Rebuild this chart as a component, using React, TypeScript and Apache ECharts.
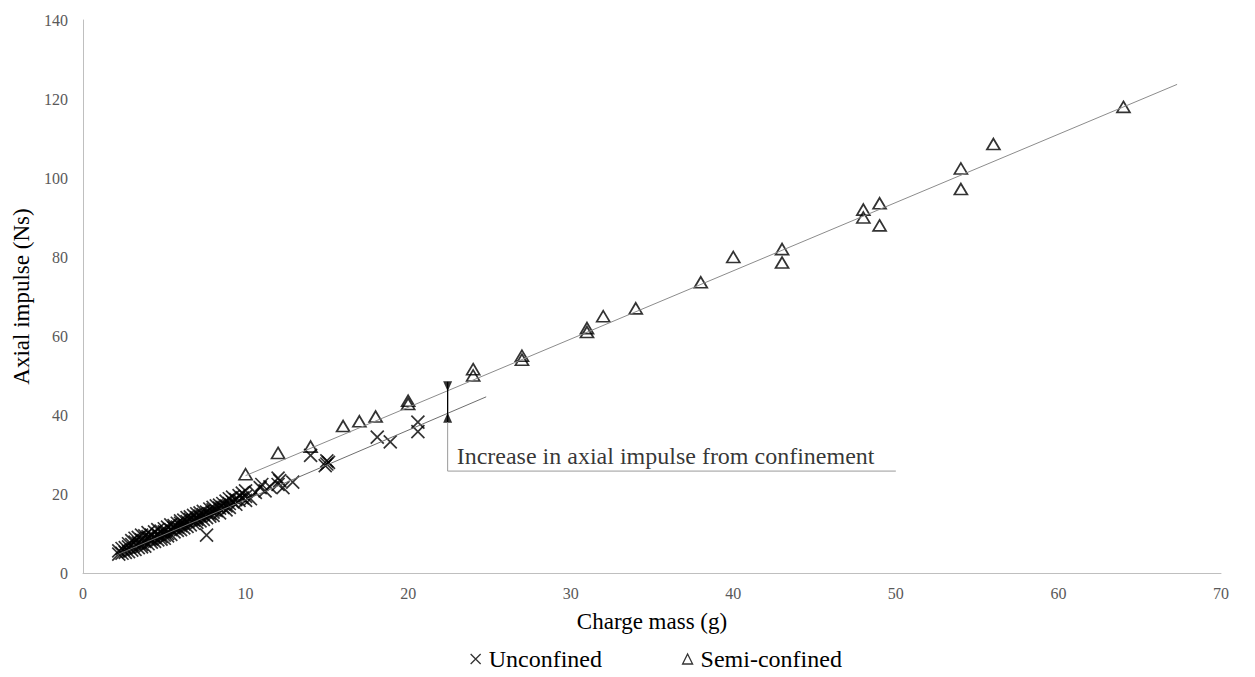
import React, { useEffect, useRef } from "react";
import * as echarts from "echarts";

// Charge mass (g) and axial impulse (Ns) for unconfined charges
const unconfinedMass = [
  2.2, 2.2, 2.4, 2.4, 2.6, 2.6, 2.8, 2.8, 2.8,
  3.0, 3.0, 3.0, 3.2, 3.2, 3.2, 3.4, 3.4, 3.4,
  3.6, 3.6, 3.6, 3.6, 3.8, 3.8, 3.8, 4.0, 4.0, 4.0, 4.0,
  4.2, 4.2, 4.2, 4.4, 4.4, 4.4, 4.6, 4.6, 4.6, 4.8, 4.8, 4.8,
  5.0, 5.0, 5.0, 5.0, 5.2, 5.2, 5.2, 5.4, 5.4, 5.4, 5.6, 5.6, 5.6,
  5.8, 5.8, 5.8, 6.0, 6.0, 6.0, 6.0, 6.2, 6.2, 6.2, 6.4, 6.4, 6.4,
  6.6, 6.6, 6.6, 6.8, 6.8, 6.8, 7.0, 7.0, 7.0, 7.0, 7.2, 7.2, 7.2,
  7.4, 7.4, 7.4, 7.6, 7.6, 7.6, 7.8, 7.8, 7.8, 8.0, 8.0, 8.0, 8.0,
  8.2, 8.2, 8.4, 8.4, 8.4, 8.6, 8.6, 8.8, 8.8, 8.8, 9.0, 9.0, 9.0,
  9.2, 9.2, 9.4, 9.4, 9.6, 9.6, 9.8, 9.8, 10.0, 10.0, 10.0,
  10.3, 10.6, 10.9, 11.0, 11.2, 11.5, 12.0, 12.0, 12.1, 12.3, 12.9,
  14.0, 14.9, 15.0, 15.0, 15.1, 18.1, 18.9, 20.6, 20.6,
];
const unconfinedImpulse = [
  4.8, 5.6, 5.0, 6.2, 6.4, 5.2, 6.6, 5.4, 7.4,
  7.2, 5.8, 8.2, 6.0, 7.8, 8.8, 7.6, 6.4, 9.0,
  8.4, 6.6, 9.6, 7.2, 8.0, 9.4, 6.8, 8.8, 7.4, 10.2, 9.2,
  9.6, 7.8, 8.6, 10.4, 9.0, 8.0, 9.8, 8.4, 11.0, 10.6, 9.2, 8.6,
  11.2, 9.6, 10.4, 8.8, 11.6, 10.0, 9.4, 11.0, 12.2, 9.8, 10.4, 12.0, 11.4,
  12.6, 10.8, 11.6, 13.2, 12.0, 11.0, 12.6, 12.4, 13.4, 11.4, 13.0, 11.8, 14.0,
  12.2, 13.6, 14.2, 14.6, 12.6, 13.4, 14.0, 15.0, 12.8, 13.6, 15.2, 13.2, 14.4,
  14.8, 13.6, 15.6, 9.6, 15.4, 14.0, 16.2, 15.0, 14.4, 16.6, 15.4, 14.6, 16.0,
  17.0, 15.8, 16.4, 17.2, 15.2, 17.6, 16.6, 17.0, 18.2, 16.0, 17.6, 18.8, 16.6,
  18.0, 19.2, 18.6, 17.4, 19.6, 18.4, 19.0, 20.2, 19.4, 20.8, 18.4,
  18.8, 20.4, 21.6, 22.4, 20.8, 21.8, 24.0, 22.4, 23.4, 21.6, 23.0,
  29.8, 27.2, 28.4, 27.6, 28.0, 34.4, 33.2, 38.2, 35.8,
];

// Charge mass (g) and axial impulse (Ns) for semi-confined charges
const semiMass = [
  10, 12, 14, 16, 17, 18, 20, 20, 24, 24, 27, 27, 31, 31, 32, 34, 38, 40,
  43, 43, 48, 48, 49, 49, 54, 54, 56, 64,
];
const semiImpulse = [
  25, 30.4, 32, 37.2, 38.4, 39.6, 43.6, 42.8, 51.6, 50, 55, 54, 62, 61, 65, 67,
  73.6, 80, 82, 78.6, 92, 90, 93.6, 88, 102.4, 97.2, 108.6, 118,
];

// Linear trend lines (end points)
const unconfinedTrendMass = [2.2, 24.8];
const unconfinedTrendImpulse = [4.8, 44.6];
const semiTrendMass = [10, 67.3];
const semiTrendImpulse = [24.65, 123.7];

// Annotation: gap between the two trend lines at 22.4 g
const gapMass = 22.43;
const gapTopImpulse = 48.4;
const gapBottomImpulse = 38.2;
const gapTopArrow = 47.3;
const gapBottomArrow = 39.3;
const calloutImpulse = 25.8;
const calloutEndMass = 50;
const calloutText = "Increase in axial impulse from confinement";

const xTicks = { min: 0, max: 70, interval: 10 };
const yTicks = { min: 0, max: 140, interval: 20 };

const FONT = "'Liberation Serif', 'Times New Roman', serif";
const CROSS = "path://M0,0L10,10M10,0L0,10";

const zip = (a: number[], b: number[]) => a.map((v, i) => [v, b[i]]);

export default function App() {
  const ref = useRef<HTMLDivElement>(null);

  useEffect(() => {
    if (!ref.current) return;
    const chart = echarts.init(ref.current, null, { renderer: "svg" });
    chart.setOption({
      animation: false,
      backgroundColor: "#ffffff",
      grid: { left: 83, right: 34, top: 20, bottom: 104 },
      xAxis: {
        type: "value",
        ...xTicks,
        name: "Charge mass (g)",
        nameLocation: "middle",
        nameGap: 37,
        nameTextStyle: { fontFamily: FONT, fontSize: 23, color: "#000" },
        axisLine: { show: true, lineStyle: { color: "#bfbfbf", width: 1 } },
        axisTick: { show: false },
        splitLine: { show: false },
        axisLabel: { fontFamily: FONT, fontSize: 16, color: "#595959", margin: 12 },
      },
      yAxis: {
        type: "value",
        ...yTicks,
        name: "Axial impulse (Ns)",
        nameLocation: "middle",
        nameGap: 38,
        nameRotate: 90,
        nameTextStyle: { fontFamily: FONT, fontSize: 23, color: "#000" },
        axisLine: { show: true, lineStyle: { color: "#bfbfbf", width: 1 } },
        axisTick: { show: false },
        splitLine: { show: false },
        axisLabel: { fontFamily: FONT, fontSize: 16, color: "#595959", margin: 15 },
      },
      legend: {
        bottom: 1,
        left: 465,
        itemGap: 80,
        itemWidth: 10,
        itemHeight: 10,
        textStyle: { fontFamily: FONT, fontSize: 24, color: "#000", padding: [0, 0, 0, 3] },
        data: [
          {
            name: "Unconfined",
            icon: CROSS,
            itemStyle: { color: "rgba(0,0,0,0)", borderColor: "#000", borderWidth: 1.3 },
          },
          {
            name: "Semi-confined",
            icon: "triangle",
            itemStyle: { color: "rgba(0,0,0,0)", borderColor: "#000", borderWidth: 1.3 },
          },
        ],
      },
      series: [
        {
          name: "Semi-confined trend",
          type: "line",
          data: zip(semiTrendMass, semiTrendImpulse),
          symbol: "none",
          lineStyle: { color: "#8c8c8c", width: 1 },
          silent: true,
        },
        {
          name: "Unconfined trend",
          type: "line",
          data: zip(unconfinedTrendMass, unconfinedTrendImpulse),
          symbol: "none",
          lineStyle: { color: "#6e6e6e", width: 1 },
          silent: true,
        },
        {
          name: "Unconfined",
          type: "scatter",
          data: zip(unconfinedMass, unconfinedImpulse),
          symbol: CROSS,
          symbolSize: 13,
          itemStyle: { color: "rgba(0,0,0,0)", borderColor: "#000", borderWidth: 1.7 },
        },
        {
          name: "Semi-confined",
          type: "scatter",
          data: zip(semiMass, semiImpulse),
          symbol: "triangle",
          symbolSize: [13, 11],
          itemStyle: { color: "rgba(0,0,0,0)", borderColor: "#000", borderWidth: 1.7 },
        },
        {
          name: "gap",
          type: "line",
          data: [
            [gapMass, gapTopImpulse],
            [gapMass, gapBottomImpulse],
          ],
          symbol: "none",
          lineStyle: { color: "#000", width: 1.3 },
          silent: true,
        },
        {
          name: "callout",
          type: "line",
          data: [
            [gapMass, gapBottomImpulse],
            [gapMass, calloutImpulse],
            [calloutEndMass, calloutImpulse],
          ],
          symbol: "none",
          lineStyle: { color: "#9a9a9a", width: 1 },
          silent: true,
        },
        {
          name: "gap arrows",
          type: "scatter",
          data: [
            { value: [gapMass, gapTopArrow], symbolRotate: 180 },
            { value: [gapMass, gapBottomArrow], symbolRotate: 0 },
          ],
          symbol: "triangle",
          symbolSize: [9, 10],
          itemStyle: { color: "#000" },
          silent: true,
        },
        {
          name: "callout label",
          type: "scatter",
          data: [[gapMass, calloutImpulse]],
          symbolSize: 0,
          silent: true,
          label: {
            show: true,
            formatter: calloutText,
            position: [9, -3],
            align: "left",
            verticalAlign: "bottom",
            fontFamily: FONT,
            fontSize: 24,
            color: "#000",
          },
        },
      ],
    });
    return () => chart.dispose();
  }, []);

  return (
    <div
      ref={ref}
      style={{ position: "fixed", left: 0, top: 0, width: 1255, height: 677 }}
    />
  );
}
